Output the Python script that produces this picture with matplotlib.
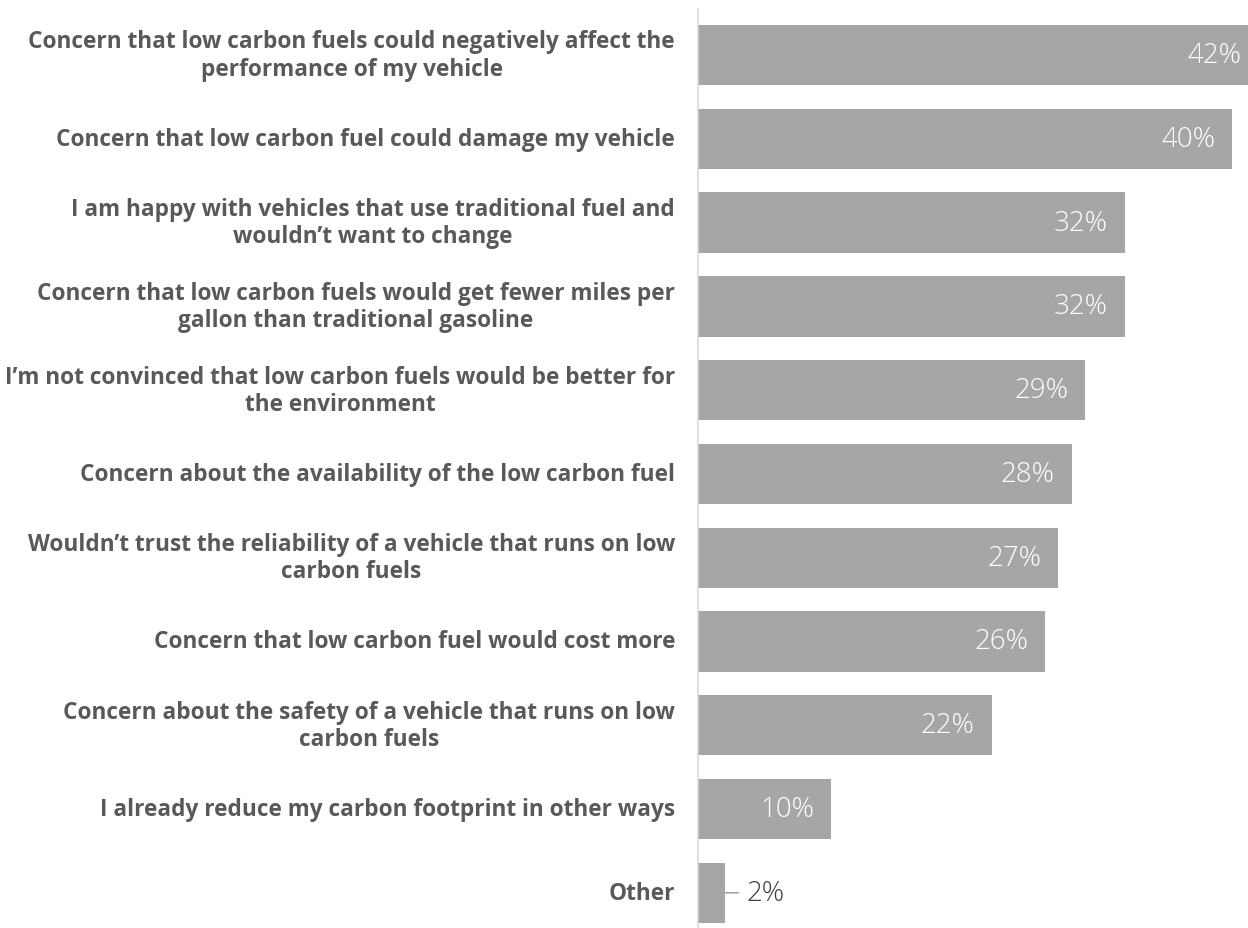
import matplotlib
matplotlib.use("Agg")
import matplotlib.pyplot as plt

plt.rcParams['font.family'] = ['Open Sans', 'DejaVu Sans']

categories = [
    "Concern that low carbon fuels could negatively affect the\nperformance of my vehicle",
    "Concern that low carbon fuel could damage my vehicle",
    "I am happy with vehicles that use traditional fuel and\nwouldn\u2019t want to change",
    "Concern that low carbon fuels would get fewer miles per\ngallon than traditional gasoline",
    "I\u2019m not convinced that low carbon fuels would be better for\nthe environment",
    "Concern about the availability of the low carbon fuel",
    "Wouldn\u2019t trust the reliability of a vehicle that runs on low\ncarbon fuels",
    "Concern that low carbon fuel would cost more",
    "Concern about the safety of a vehicle that runs on low\ncarbon fuels",
    "I already reduce my carbon footprint in other ways",
    "Other",
]
values = [42, 40, 32, 32, 29, 28, 27, 26, 22, 10, 2]
value_labels = ["42%", "40%", "32%", "32%", "29%", "28%", "27%", "26%", "22%", "10%", "2%"]

bar_color = '#a6a6a6'
label_color = '#595959'

fig = plt.figure(figsize=(12.48, 9.29), dpi=100)
ax = fig.add_axes([698 / 1248, 0, 1 - 698 / 1248, 1 - 10 / 929])

ypos = list(range(len(values)))
ax.barh(ypos, values, height=0.72, color=bar_color)

ax.set_xlim(0, 41.2)
ax.set_ylim(10.42, -0.55)

for s in ['top', 'right', 'bottom']:
    ax.spines[s].set_visible(False)
ax.spines['left'].set_color('#d9d9d9')
ax.spines['left'].set_linewidth(1.2)
ax.set_xticks([])
ax.set_yticks([])

for y, cat in zip(ypos, categories):
    ax.annotate(cat, xy=(0, y), xytext=(-23, 0), textcoords='offset pixels',
                ha='right', va='center', multialignment='center',
                fontsize=16.3, fontweight='bold', color=label_color,
                linespacing=1.18, annotation_clip=False)

for y, v, lab in zip(ypos, values, value_labels):
    if v >= 5:
        ax.annotate(lab, xy=(v, y), xytext=(-17, 0), textcoords='offset pixels',
                    ha='right', va='center', fontsize=20, fontweight='light',
                    color='white', annotation_clip=False)
    else:
        # small bar: label outside with a short leader line
        ax.annotate(lab, xy=(v, y), xytext=(22, 0), textcoords='offset pixels',
                    ha='left', va='center', fontsize=20, fontweight='light',
                    color='#404040', annotation_clip=False,
                    arrowprops=dict(arrowstyle='-', color='#a6a6a6', lw=1.2,
                                    shrinkA=4, shrinkB=0))

fig.savefig('out.png', dpi=100)
